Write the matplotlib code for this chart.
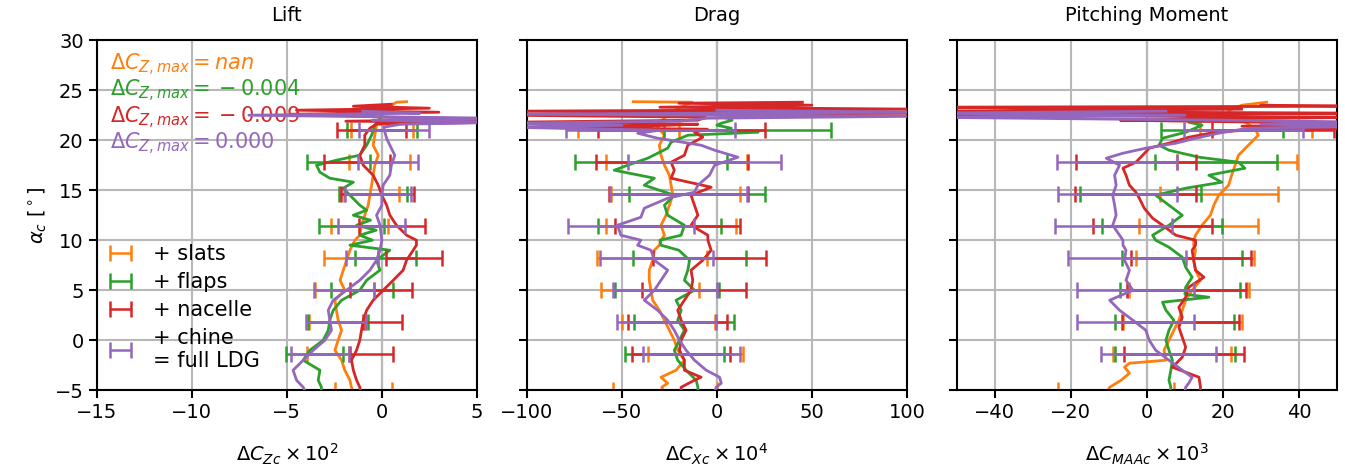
import numpy as np
import matplotlib
matplotlib.use('Agg')
import matplotlib.pyplot as plt

# ============================================================
# Data
# ============================================================

colors = ['tab:orange', 'tab:green', 'tab:red', 'tab:purple']
labels = ['+ slats', '+ flaps', '+ nacelle', '+ chine\n= full LDG']
# text after the "=" sign of each ΔC_Z,max annotation
# ({} in front of the minus makes mathtext space it as a binary operator)
cz_max_text = [r'nan', r'{}-0.004', r'{}-0.009', r'0.000']

# error bar positions (angle of attack)
err_alpha = [-1.4, 1.8, 5.0, 8.2, 11.4, 14.6, 17.8, 21.0]
err_alpha_slats = [-5.0] + err_alpha

# ---------------- Lift (x 10^2) ----------------
lift_a_slats = [-5.2, -4.7, -4, -3, -2, -1, 0, 1, 2, 3, 4, 5, 6, 7, 8, 9, 10, 10.5, 11.5, 12.5,
                13.5, 14.5, 15.5, 16.5, 17.5, 18.5, 19.5, 20.5, 21.5, 22.5, 23.2, 23.8, 23.85]
lift_slats = [-1.5, -1.6, -1.68, -1.95, -2.12, -2.47, -2.3, -2.12, -2.3, -2.39, -2.47, -1.95, -2.2,
              -2.03, -1.86, -1.68, -1.42, -1.16, -1.07, -0.9, -0.72, -0.63, -0.54, -0.46, -0.37,
              -0.19, -0.46, -0.37, -0.28, 0.0, 0.25, 0.77, 1.3]

lift_a_flaps = [-5.2, -4.7, -4, -3, -2, -1, 0, 1, 2, 3, 4, 5, 6, 7, 8, 9, 9.5, 10, 10.5, 11, 11.5,
                12, 12.5, 13, 13.5, 14.5, 15.2, 15.8, 16.2, 16.8, 17.5, 18, 18.5, 19.5, 20.5, 21.5, 22.2]
lift_flaps = [-3.2, -3.18, -3.35, -3.26, -4.14, -3.79, -3.09, -2.82, -2.74, -2.56, -2.12, -1.16, -0.8,
              -0.1, -0.28, 0.42, -1.68, -0.5, -1.16, -0.3, -1.33, -0.6, -1.5, -0.8, -1.16, -1.68,
              -2.03, -1.5, -2.74, -3.26, -3.44, -2.39, -1.16, -0.8, -0.54, -0.37, -0.1]

lift_a_nacelle = [-5.2, -4.7, -4, -3, -2, -1, 0, 1, 2, 3, 4, 5, 6, 7, 8, 9, 9.5, 10, 10.5, 11.5, 12.5,
                  13.5, 14.5, 15.5, 16.5, 17.5, 18.5, 19.5, 20.5, 21.2, 21.6, 21.8, 21.9, 22.1, 22.3,
                  22.6, 22.8, 23.0, 23.2, 23.4, 23.6]
lift_nacelle = [-1.1, -1.16, -1.33, -1.5, -1.6, -1.33, -1.16, -1.07, -0.98, -0.8, -0.46, 0.07, 0.6,
                1.12, 1.3, 1.65, 1.82, 1.82, 1.3, 0.77, 0.42, 0.25, 0.0, -0.19, -0.46, -0.98, -1.16,
                -0.9, -0.9, -0.63, -0.3, 6.0, -1.9, 6.0, 0.5, -4.8, 3.0, -4.5, 2.5, -1.5, 0.5]

lift_a_full = [-5.2, -4.7, -4, -3, -2, -1, 0, 1, 2, 3, 4, 5, 6, 7, 8, 9, 10, 11.5, 12.5, 13.5, 14.5,
               15.5, 16.5, 17.5, 18.5, 19.5, 20.2, 20.8, 21.3, 21.6, 21.8, 22.0, 22.2, 22.5, 22.7, 22.9]
lift_full = [-4.0, -4.14, -4.49, -4.67, -4.14, -3.61, -3.0, -2.65, -2.74, -2.82, -2.56, -1.86, -1.16,
             -0.63, -0.28, -0.1, 0.0, -0.1, -0.28, 0.0, 0.0, 0.07, 0.42, 0.5, 0.68, 0.42, 0.25, 0.16,
             0.1, 1.0, 7.0, -0.5, 6.0, -7.0, 2.0, -1.0]

# error bar ends [low, high]
lift_err_slats = [[-2.47, 0.56], [-3.93, -1.72], [-3.82, -0.9], [-3.5, -0.42], [-3.05, -0.2],
                  [-2.68, 0.3], [-2.0, 0.9], [-1.72, 1.47], [-1.6, 1.65]]
lift_err_flaps = [[-5.05, -2.03], [-3.9, -0.75], [-2.7, 0.6], [-1.42, 1.82], [-3.3, 0.1],
                  [-2.25, 1.3], [-3.96, -0.6], [-1.81, 1.86]]
lift_err_nacelle = [[-1.68, 0.6], [-1.0, 1.04], [-1.68, 1.61], [0.2, 3.19], [-1.2, 2.26],
                    [-2.15, 1.7], [-3.05, 0.44], [-2.35, 1.26]]
lift_err_full = [[-4.8, -1.72], [-4.0, -0.84], [-3.58, -0.4], [-1.89, -0.19], [-2.3, 1.21],
                 [-1.95, 1.56], [-1.25, 1.91], [-1.19, 2.47]]

# ---------------- Drag (x 10^4) ----------------
drag_a_slats = [-5.2, -4.7, -4.3, -3.7, -3, -2, -1, 0, 1, 2, 3, 4, 5, 6, 7, 8, 9, 9.5, 10, 10.5, 11.5,
                12.5, 13.5, 14.5, 15.5, 16.5, 17.5, 18.5, 19.5, 20.5, 21.5, 22.2, 22.8, 23.5, 23.8, 23.85]
drag_slats = [-28, -29, -25.9, -29.4, -21.5, -17.1, -20.6, -22.4, -25, -27.6, -30.3, -33.8, -34.7,
              -35.6, -35.6, -33.8, -32.9, -30.3, -29.4, -27.6, -29.4, -26.8, -25, -23.2, -24.1, -25,
              -27.6, -29.4, -30.3, -27.6, -32, -27.6, -24.1, -17, -13, -44]

drag_a_flaps = [-5.2, -4.7, -4, -3, -2, -1, 0, 1, 2, 3, 4, 5, 6, 7, 8, 9, 9.5, 10, 10.5, 11.5, 12.5,
                13.5, 14.5, 15.5, 16.2, 17, 17.5, 18.2, 19.2, 19.8, 20.5, 20.8, 21.0, 21.2, 21.5, 21.7,
                22.0, 22.2, 22.3]
drag_flaps = [-10, -10, -10.9, -16.2, -20.6, -22.4, -19.7, -17.1, -20.6, -18.8, -21.5, -11.8, -17.1,
              -15.3, -14.4, -20, -29.4, -30, -18.8, -17.1, -25.9, -27.6, -22.4, -38.2, -32.9, -54,
              -47, -36.4, -25.9, -24.1, -15.3, 21.7, 5, 7.6, 0, 2.3, 8, 5.8, 2]

drag_a_nacelle = [-5.2, -4.7, -4, -3.7, -3, -2, -1, 0, 1, 2, 3, 4, 5, 6, 7, 8, 9, 9.5, 10, 10.5, 11.5,
                  12.5, 13.5, 14.5, 15.3, 16.2, 17, 17.8, 18.5, 19.5, 20.3, 20.8, 21.1, 21.3, 21.4,
                  21.6, 21.8, 22.0, 22.3, 22.5, 22.7, 22.9, 23.1, 23.3, 23.5, 23.7, 23.8]
drag_nacelle = [-19, -18.8, -11.8, -8.3, -17.1, -17.1, -19.7, -18.8, -16.2, -18.8, -20.6, -17.1,
                -13.6, -12.7, -13.6, -7.4, -3.0, -3.9, -4.75, -4.75, -13.6, -10, -11.8, -13.6, -3,
                -24.1, -22.4, -24.1, -17.1, -15.3, -7.4, -11.8, -5, -110, -40, -10, -110, -10, -6,
                -110, 110, -110, 110, -30, 50, -20, 45]

drag_a_full = [-5.2, -4.7, -4.3, -3.7, -3, -2, -1, 0, 1, 2, 3, 4, 5, 6, 7, 8, 9, 9.5, 10, 10.5, 11.5,
               12.3, 13.2, 14.2, 14.8, 15.5, 16.5, 17.5, 18.3, 19, 19.5, 20.2, 20.7, 21.0, 21.3, 21.5,
               21.7, 21.9, 22.2, 22.4, 22.6, 22.8, 23.0]
drag_full = [-1, -0.35, 2.3, 1.4, -5.6, -11.8, -16.2, -19.7, -22.4, -25.9, -31.2, -38.2, -32.9, -29.4,
             -25.9, -32.9, -34.7, -41.7, -40, -50.5, -52.3, -40, -38.2, -25.9, -11.8, -10, -3.9, -1.2,
             11.1, -1.2, -8.3, -31.2, -41.7, -30, -110, -50, -110, -20, -5, 110, -110, 110, 0]

drag_err_slats = [[-54.5, 0], [-36.4, 13.7], [-50, -1], [-61, -9.2], [-62.9, -5], [-58.5, 10],
                  [-55.5, 12.3], [-58.5, 16.0], [-72.9, -20]]
drag_err_flaps = [[-48.2, 4.0], [-43.5, 8.8], [-53.5, 1.0], [-44.2, 15.5], [-62.5, 2.3],
                  [-46.5, 25.5], [-74.6, 5.3], [-27.6, 60]]
drag_err_nacelle = [[-44.9, 6.7], [-47, 5.5], [-39.4, 15.5], [-33.8, 26], [-53.7, 12.3],
                    [-57, 16.4], [-63.7, 16.4], [-62.5, 25.5]]
drag_err_full = [[-38.7, 12.3], [-52.6, -0.4], [-54.5, 0.2], [-61.4, -2.1], [-78.2, -12.3],
                 [-56, 16], [-47, 33.5], [-79.6, 9.3]]

# ---------------- Pitching moment (x 10^3) ----------------
pm_a_slats = [-5.2, -4.7, -4, -3.3, -2.7, -2.3, -2, -1, 0, 1, 2, 3, 4, 5, 6, 7, 8, 9, 9.5, 10, 10.5,
              11.5, 12.5, 13.5, 14.5, 15.5, 16.5, 17.5, 18.5, 19.5, 20.5, 21.2, 21.8, 22.5, 23, 23.5, 23.8]
pm_slats = [-10.5, -9.8, -6.8, -4.6, -5.9, -4.6, 5, 4.5, 5.8, 7.1, 8.4, 9.3, 10.2, 11.9, 14.1, 12.8,
            12.3, 12.8, 12.3, 12.3, 12.8, 14.5, 16.7, 17.6, 18.9, 21.5, 22.3, 23.2, 24.1, 26.7, 29.3,
            28.4, 25.8, 22.3, 21.5, 25, 31.5]

pm_a_flaps = [-5.2, -4.7, -4, -3, -2, -1, 0, 1, 2, 3, 3.8, 4.3, 4.6, 5.3, 6.3, 7.3, 8.3, 9.3, 10, 10.5,
              11.5, 12.5, 13.5, 14.5, 15.2, 15.8, 16.5, 17.2, 17.8, 18.3, 19, 19.5, 20.2, 20.8, 21.5,
              21.8, 22.0, 22.1]
pm_flaps = [6, 6.3, 5.8, 6.3, 6.7, 5.8, 5, 5.8, 7.1, 5, 4.1, 16.3, 10, 10.2, 11.9, 10.2, 9.3, 5.8, 2.3,
            1.5, 5.8, 9.3, 5.8, 2.3, 10.2, 19.7, 16.3, 25.8, 24.1, 13.7, 5.8, 3.2, 4.1, 10.2, 14.5,
            11, 17.1, 10]

pm_a_nacelle = [-5.2, -4.7, -3.7, -2.7, -1.7, -0.7, 0.3, 1.3, 2.3, 3.3, 4.3, 5.3, 6.3, 7, 8, 9, 9.5,
                10, 10.5, 11.5, 12.2, 13.2, 14.2, 14.8, 15.5, 16.5, 17.2, 17.8, 18.5, 19.2, 19.8, 20.3,
                20.8, 21.1, 21.2, 21.4, 21.6, 21.8, 22.0, 22.1, 22.3, 22.5, 22.7, 22.9, 23.1, 23.3,
                23.4, 23.5]
pm_nacelle = [14, 14.1, 13.7, 6.7, 9.3, 10.2, 9.3, 8.4, 9.3, 8.4, 10.2, 11, 15, 12.8, 12.3, 11.9,
              12.8, 12.8, 7.6, 4.1, 1.5, -0.7, -2, -2.9, -4.6, -5.5, -6.3, -2.9, -1.1, 0.6, 6.7, 11,
              18, 30, 60, 25, 60, 30, -7, 10, 60, -60, 60, -60, 25, -60, 60, 30]

pm_a_full = [-5.2, -4.7, -4.3, -3.7, -3, -2, -1, 0, 1, 2, 3, 4, 5, 6, 7, 8, 9, 9.5, 10, 10.5, 11.5,
             12.5, 13.5, 14.5, 15.5, 16.5, 17.5, 18.2, 18.7, 19.2, 19.7, 20.2, 20.7, 21.2, 21.4, 21.6,
             21.8, 22.0, 22.3, 22.5, 22.7, 22.9]
pm_full = [10, 10.2, 11, 11.9, 9.3, 5.8, 2.3, 0.6, -0.3, -3.7, -7.2, -9.8, -3.7, -5.5, -4.6, -5.9,
           -5.5, -6.3, -6.3, -7.2, -9, -8.1, -8.5, -9, -8.1, -8.5, -7.2, -10.7, -6.3, -0.3, 7.6, 12.8,
           18.9, 26.7, 60, 30, 60, 20, -60, 10, -60, 5]

pm_err_slats = [[-23.3, 7.1], [-9, 22.2], [-6.3, 25], [-4.6, 26.9], [-2.9, 28.3], [-2.0, 29.1],
                [3.4, 34.5], [8.0, 39.5], [14, 43.5]]
pm_err_flaps = [[-8.3, 23.2], [-8.4, 22.9], [-7.2, 24.5], [-6.6, 25.1], [-11.9, 19.7],
                [-17.7, 14.3], [2.1, 34.2], [3.8, 35.8]]
pm_err_nacelle = [[-6.1, 25.5], [-6.5, 24.3], [-5.3, 26.1], [-4.2, 27.4], [-14.2, 17.1],
                  [-19, 12.8], [-18.7, 13], [17.1, 49.3]]
pm_err_full = [[-12.2, 18.2], [-18.3, 12.3], [-18.3, 12.3], [-20.7, 10.2], [-24.3, 6.5],
               [-23.5, 7.8], [-23.7, 7.8], [9.7, 41.2]]

# ============================================================
# Plot
# ============================================================

plt.rcParams['font.family'] = ['DejaVu Sans']
plt.rcParams['font.size'] = 14

fig, axes = plt.subplots(1, 3, figsize=(13.45, 4.73), dpi=100, sharey=True)
fig.subplots_adjust(left=0.072, right=0.994, top=0.915, bottom=0.175, wspace=0.1316)

panels = [
    dict(title='Lift', xlabel=r'$\Delta C_{Zc} \times 10^2$', xlim=(-15, 5),
         xticks=[-15, -10, -5, 0, 5],
         traces=[(lift_a_slats, lift_slats), (lift_a_flaps, lift_flaps),
                 (lift_a_nacelle, lift_nacelle), (lift_a_full, lift_full)],
         errs=[lift_err_slats, lift_err_flaps, lift_err_nacelle, lift_err_full]),
    dict(title='Drag', xlabel=r'$\Delta C_{Xc} \times 10^4$', xlim=(-100, 100),
         xticks=[-100, -50, 0, 50, 100],
         traces=[(drag_a_slats, drag_slats), (drag_a_flaps, drag_flaps),
                 (drag_a_nacelle, drag_nacelle), (drag_a_full, drag_full)],
         errs=[drag_err_slats, drag_err_flaps, drag_err_nacelle, drag_err_full]),
    dict(title='Pitching Moment', xlabel=r'$\Delta C_{MAAc} \times 10^3$', xlim=(-50, 50),
         xticks=[-40, -20, 0, 20, 40],
         traces=[(pm_a_slats, pm_slats), (pm_a_flaps, pm_flaps),
                 (pm_a_nacelle, pm_nacelle), (pm_a_full, pm_full)],
         errs=[pm_err_slats, pm_err_flaps, pm_err_nacelle, pm_err_full]),
]

for ax, p in zip(axes, panels):
    ax.grid(True, color='#b8b8b8', linewidth=1.5, zorder=0)
    ax.axvline(0, color='#555555', linewidth=1.5, zorder=1)

    handles = []
    for i in range(4):
        a, v = p['traces'][i]
        ax.plot(v, a, color=colors[i], linewidth=2, zorder=2 + i)

        # error bars: centre and half width from the read-off ends
        ends = np.array(p['errs'][i])
        e_alpha = err_alpha_slats if i == 0 else err_alpha
        center = ends.mean(axis=1)
        half = (ends[:, 1] - ends[:, 0]) / 2
        h = ax.errorbar(center, e_alpha, xerr=half, fmt='none', ecolor=colors[i],
                        elinewidth=1.8, capsize=6, capthick=1.8, zorder=2 + i)
        handles.append(h)

    ax.set_xlim(*p['xlim'])
    ax.set_xticks(p['xticks'])
    ax.set_ylim(-5, 30)
    ax.set_yticks(np.arange(-5, 31, 5))
    ax.set_title(p['title'], fontsize=14, pad=14)
    ax.set_xlabel(p['xlabel'], fontsize=14, labelpad=14)
    ax.tick_params(width=1.5, length=6, labelsize=14)
    for s in ax.spines.values():
        s.set_linewidth(1.5)

    if p['title'] == 'Lift':
        ax.set_ylabel(r'$\alpha_c$ [$^\circ$]', fontsize=14)
        ax.legend(handles, labels, loc='lower left', bbox_to_anchor=(0, 0.037),
                  frameon=False, fontsize=15, handlelength=1.7, handletextpad=0.7,
                  labelspacing=0.38, borderaxespad=0.1, borderpad=0.2)
        for i in range(4):
            ax.text(0.034, 0.929 - 0.075 * i,
                    r'$\Delta C_{Z,max} = ' + cz_max_text[i] + '$',
                    transform=ax.transAxes, color=colors[i], fontsize=15, va='center')

plt.savefig('out.png', dpi=100)
